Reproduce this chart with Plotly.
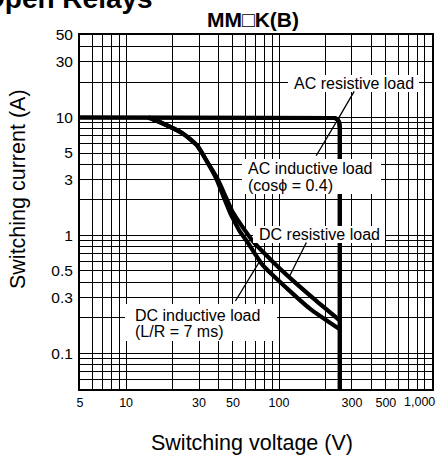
import math
import plotly.graph_objects as go

# ---------------- data ----------------
# AC resistive load (limit curve): voltage (V), current (A)
ac_res_v = [5, 215, 232, 242, 248, 250, 250]
ac_res_i = [10, 10, 9.9, 9.6, 9.0, 8.2, 0.05]
# AC inductive load (cos phi = 0.4) - coincides with the resistive curve
ac_ind_v = [5, 215, 232, 242, 248, 250, 250]
ac_ind_i = [10, 10, 9.9, 9.6, 9.0, 8.2, 0.05]
# DC resistive load
dc_res_v = [14, 17.4, 23.6, 29.1, 33.8, 39.5, 45, 49.5, 53, 60, 67.6, 91, 123, 177, 250]
dc_res_i = [10, 8.9, 7.3, 5.8, 4.24, 3.04, 2.1, 1.6, 1.39, 1.1, 0.89, 0.6, 0.416, 0.276, 0.19]
# DC inductive load (L/R = 7 ms)
dc_ind_v = [14, 17.4, 23.6, 29.1, 33.8, 39.0, 43.8, 48, 50, 55, 61.8, 78.5, 112.7, 159, 250]
dc_ind_i = [10, 8.9, 7.3, 5.8, 4.24, 3.0, 2.06, 1.55, 1.39, 1.1, 0.89, 0.557, 0.356, 0.24, 0.16]

# tick labels
x_label_vals = [5, 10, 30, 50, 100, 300, 500, 1000]
x_label_text = ["5", "10", "30", "50", "100", "300", "500", "1,000"]
y_label_vals = [0.1, 0.3, 0.5, 1, 3, 5, 10, 30, 50]
y_label_text = ["0.1", "0.3", "0.5", "1", "3", "5", "10", "30", "50"]

title_text = "<b>MM\u25a1K(B)</b>"
x_title = "Switching voltage (V)"
y_title = "Switching current (A)"

# ---------------- geometry helpers (pixels -> paper) ----------------
W, H = 438, 457
L, R, T, B = 80, 432, 35, 389
def px(x):
    return (x - L) / (R - L)
def py(y):
    return (B - y) / (B - T)

# grid positions (log grid: 1..9 x decade)
x_grid = [m * 10 ** d for d in range(0, 4) for m in range(1, 10) if 5 <= m * 10 ** d <= 1000]
y_grid = [m * 10 ** d for d in range(-2, 2) for m in range(1, 10) if 0.05 <= m * 10 ** d <= 50]

def fmt(vals, lab_vals, lab_text, skip=()):
    out = []
    for v in vals:
        t = ""
        for lv, lt in zip(lab_vals, lab_text):
            if abs(v - lv) < 1e-9 * max(1, lv) and lt not in skip:
                t = lt
        out.append(t)
    return out

x_text = fmt(x_grid, x_label_vals, x_label_text, skip=("1,000",))
y_text = fmt(y_grid, y_label_vals, y_label_text)

fig = go.Figure()
line_w = 4.2
for v, i, nm in [(ac_res_v, ac_res_i, "AC resistive load"),
                 (ac_ind_v, ac_ind_i, "AC inductive load"),
                 ]:
    fig.add_trace(go.Scatter(x=v, y=i, mode="lines", name=nm,
                             line=dict(color="black", width=line_w)))
for v, i, nm in [(dc_res_v, dc_res_i, "DC resistive load"),
                 (dc_ind_v, dc_ind_i, "DC inductive load")]:
    fig.add_trace(go.Scatter(x=v, y=i, mode="lines", name=nm,
                             line=dict(color="black", width=line_w, shape="spline", smoothing=0.6)))

FONT = "Liberation Sans, Arial, sans-serif"
XTICK_FONT = dict(family=FONT, size=12.5, color="black")

fig.update_layout(
    width=W, height=H,
    margin=dict(l=L, r=W - R, t=T, b=H - B, pad=0),
    paper_bgcolor="white", plot_bgcolor="white",
    showlegend=False,
    font=dict(family=FONT, color="black"),
)
fig.update_xaxes(
    type="log", range=[math.log10(5) - 0.0005, math.log10(1000) + 0.0005],
    tickmode="array", tickvals=x_grid, ticktext=x_text,
    tickfont=XTICK_FONT,
    showgrid=True, gridcolor="black", gridwidth=1.2,
    showline=True, mirror=True, linecolor="black", linewidth=2,
    ticks="", ticklabelstandoff=1, zeroline=False, automargin=False,
)
fig.update_yaxes(
    type="log", range=[math.log10(0.05) - 0.0005, math.log10(50) + 0.0005],
    tickmode="array", tickvals=y_grid, ticktext=y_text,
    tickfont=dict(family=FONT, size=15.5, color="black"),
    showgrid=True, gridcolor="black", gridwidth=1.2,
    showline=True, mirror=True, linecolor="black", linewidth=2,
    ticks="", ticklabelstandoff=2, zeroline=False, automargin=False,
)

# white label boxes (cover grid and curves)
boxes = [(288, 75, 419, 92), (242, 159, 381, 194), (253, 226, 385, 243), (125, 304, 277, 341)]
for x0, y0, x1, y1 in boxes:
    fig.add_shape(type="rect", xref="paper", yref="paper",
                  x0=px(x0), x1=px(x1), y0=py(y1), y1=py(y0),
                  fillcolor="white", line=dict(width=0), layer="above")

ann = []
def text(t, x, y, size=16, xa="center", ya="middle", **kw):
    ann.append(dict(text=t, xref="paper", yref="paper", x=px(x), y=py(y),
                    xanchor=xa, yanchor=ya, showarrow=False,
                    font=dict(family=FONT, size=size, color="black"), **kw))

text("AC resistive load", 354, 83.5)
text("AC inductive load", 246, 168, xa="left")
text("(cos\u03d5 = 0.4)", 246, 185, xa="left")
text("DC resistive load", 319.5, 234.5)
text("DC inductive load", 133, 315, xa="left")
text("(L/R = 7 ms)", 133, 331.5, xa="left")

# titles
text(title_text, 253, 20, size=21)
text("<b>Open Relays</b>", -19, 16, size=28, xa="left", ya="bottom")
text(x_title, 252, 443, size=21.5)
text(y_title, 18, 189, size=21.5, textangle=-90)
# last x tick label, shifted to fit inside the figure
ann.append(dict(text=x_label_text[-1], xref="paper", yref="paper", x=px(437), y=py(402),
                xanchor="right", yanchor="middle", showarrow=False, font=XTICK_FONT))

# leader lines: (tip value x, tip value y, offset px dx, dy)
leaders = [(242, 9.6, 17, -29), (242, 9.6, -22, 37), (116, 0.44, 18, -36), (75, 0.61, -25, 41)]
for vx, vy, dx, dy in leaders:
    ann.append(dict(text=" ", x=math.log10(vx), y=math.log10(vy), xref="x", yref="y",
                    ax=dx, ay=dy, showarrow=True, arrowhead=0, arrowwidth=1.3,
                    arrowcolor="black", standoff=0, startstandoff=0,
                    font=dict(size=1), borderpad=0))

fig.update_layout(annotations=ann)
fig.write_html("out.html", config={"displayModeBar": False},
               post_script="document.body.style.margin='0';document.body.style.padding='0';")
